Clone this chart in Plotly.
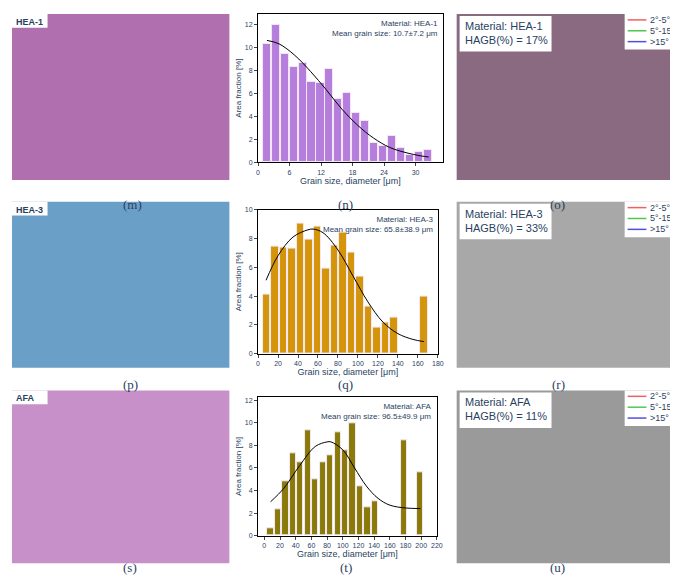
import plotly.graph_objects as go

W, H = 678, 583
# HEA-1
x1 = [1.7*i for i in range(1, 20)]
y1 = [10.3, 11.9, 9.4, 8.3, 8.6, 7.0, 6.9, 8.1, 5.5, 6.0, 4.3, 3.6, 1.65, 1.45, 2.25, 1.25, 0.65, 0.85, 1.05]
fx1 = [1.7, 4, 7, 10, 13, 16, 19, 22, 25, 28, 31, 32.5]
fy1 = [10.6, 10.3, 9.3, 7.9, 6.3, 4.6, 3.2, 2.1, 1.3, 0.85, 0.55, 0.45]
# HEA-3
x2 = [8.5, 17, 25.5, 34, 42.5, 51, 59.5, 68, 76.5, 85, 93.5, 102, 110.5, 119, 127.5, 136, 166]
y2 = [4.1, 7.45, 7.4, 7.3, 9.0, 7.95, 8.85, 5.9, 7.5, 8.4, 7.05, 5.35, 3.25, 1.8, 2.2, 2.5, 4.0]
fx2 = [8, 20, 35, 50, 55, 65, 80, 95, 110, 125, 140, 155, 166]
fy2 = [5.1, 6.8, 8.1, 8.6, 8.65, 8.4, 7.2, 5.4, 3.6, 2.2, 1.4, 1.0, 0.85]
# AFA
x3 = [8, 17.5, 27, 36.5, 46, 55.5, 65, 74.5, 84, 93.5, 103, 112.5, 122, 131.5, 141, 178, 199]
y3 = [0.65, 2.35, 4.85, 7.25, 6.5, 9.3, 4.95, 6.5, 7.15, 9.15, 7.6, 9.95, 4.4, 2.5, 3.0, 8.45, 5.6]
fx3 = [8, 25, 45, 65, 80, 85, 100, 115, 130, 145, 160, 180, 199]
fy3 = [3.0, 4.2, 6.2, 7.9, 8.3, 8.3, 7.6, 6.0, 4.4, 3.3, 2.7, 2.45, 2.4]

rows = [
    dict(x=x1, y=y1, fx=fx1, fy=fy1, w=1.55, col="#b57edc", xr=[0, 35.2], yr=[0, 12.9], xt=[0, 6, 12, 18, 24, 30], yt=[0, 2, 4, 6, 8, 10, 12],
         px=(251, 438), py=(2, 152), mat="HEA-1", mean="10.7±7.2 μm", hagb="17%", lab=("(m)", "(n)", "(o)"), ly=185,
         img=(2, 170), ipf="#b070b0", gb="#8a6a80"),
    dict(x=x2, y=y2, fx=fx2, fy=fy2, w=7.6, col="#d4950a", xr=[0, 180], yr=[0, 10], xt=list(range(0, 181, 20)), yt=[0, 2, 4, 6, 8, 10],
         px=(251, 433), py=(200, 346), mat="HEA-3", mean="65.8±38.9 μm", hagb="33%", lab=("(p)", "(q)", "(r)"), ly=377,
         img=(192, 360), ipf="#6aa0c8", gb="#a8a8a8"),
    dict(x=x3, y=y3, fx=fx3, fy=fy3, w=7.8, col="#8a7a0a", xr=[-8, 220], yr=[0, 12.25], xt=list(range(0, 221, 20)), yt=[0, 2, 4, 6, 8, 10, 12],
         px=(251, 432), py=(390, 530), mat="AFA", mean="96.5±49.9 μm", hagb="11%", lab=("(s)", "(t)", "(u)"), ly=572,
         img=(383, 558), ipf="#c890c8", gb="#9a9a9a"),
]

fig = go.Figure()
shapes, anns = [], []
def px2x(p): return p / W
def py2y(p): return 1 - p / H

for i, r in enumerate(rows, start=1):
    xa = "x" if i == 1 else f"x{i}"
    ya = "y" if i == 1 else f"y{i}"
    fig.add_trace(go.Bar(x=r["x"], y=r["y"], width=r["w"], marker=dict(color=r["col"], line=dict(color="#f4e8f4", width=1)),
                         xaxis=xa, yaxis=ya, showlegend=False))
    fig.add_trace(go.Scatter(x=r["fx"], y=r["fy"], mode="lines", line=dict(color="black", width=1, shape="spline"),
                             xaxis=xa, yaxis=ya, showlegend=False))
    ax = dict(domain=[px2x(r["px"][0]), px2x(r["px"][1])], range=r["xr"], tickvals=r["xt"], showline=True, mirror=True,
              linecolor="black", linewidth=1, ticks="outside", ticklen=3, tickangle=0, tickfont=dict(size=7, family="Arial"),
              title=dict(text="Grain size, diameter [μm]", font=dict(size=9, family="Arial"), standoff=1),
              anchor=ya, showgrid=False, zeroline=False)
    ay = dict(domain=[py2y(r["py"][1]), py2y(r["py"][0])], range=r["yr"], tickvals=r["yt"], showline=True, mirror=True,
              linecolor="black", linewidth=1, ticks="outside", ticklen=3, tickfont=dict(size=7, family="Arial"),
              title=dict(text="Area fraction [%]", font=dict(size=8, family="Arial"), standoff=2),
              anchor=xa, showgrid=False, zeroline=False)
    fig.layout["xaxis" if i == 1 else f"xaxis{i}"] = ax
    fig.layout["yaxis" if i == 1 else f"yaxis{i}"] = ay
    anns.append(dict(xref="paper", yref="paper", x=px2x(r["px"][1] - 3), y=py2y(r["py"][0] + 3), xanchor="right", yanchor="top",
                     align="right", showarrow=False, text=f"Material: {r['mat']}<br>Mean grain size: {r['mean']}",
                     font=dict(size=8, family="Arial")))
    t, b = r["img"]
    shapes.append(dict(type="rect", xref="paper", yref="paper", x0=px2x(2), x1=px2x(222), y0=py2y(b), y1=py2y(t),
                       fillcolor=r["ipf"], line=dict(width=0), layer="below"))
    shapes.append(dict(type="rect", xref="paper", yref="paper", x0=px2x(452), x1=px2x(676), y0=py2y(b), y1=py2y(t),
                       fillcolor=r["gb"], line=dict(width=0), layer="below"))
    shapes.append(dict(type="rect", xref="paper", yref="paper", x0=px2x(455), x1=px2x(548), y0=py2y(t + 38), y1=py2y(t + 2),
                       fillcolor="white", line=dict(width=0)))
    shapes.append(dict(type="rect", xref="paper", yref="paper", x0=px2x(622), x1=px2x(676), y0=py2y(t + 36), y1=py2y(t),
                       fillcolor="white", line=dict(width=0)))
    shapes.append(dict(type="rect", xref="paper", yref="paper", x0=px2x(2), x1=px2x(38), y0=py2y(t + 14), y1=py2y(t),
                       fillcolor="white", line=dict(width=0)))
    anns.append(dict(xref="paper", yref="paper", x=px2x(4), y=py2y(t + 1), xanchor="left", yanchor="top", showarrow=False,
                     text=f"<b>{r['mat']}</b>", font=dict(size=9, family="Arial")))
    anns.append(dict(xref="paper", yref="paper", x=px2x(458), y=py2y(t + 4), xanchor="left", yanchor="top", showarrow=False,
                     align="left", text=f"Material: {r['mat']}<br>HAGB(%) = {r['hagb']}", font=dict(size=11, family="Arial")))
    for k, (c, txt) in enumerate([("#f06060", "2°-5°"), ("#50c850", "5°-15°"), ("#5050e0", ">15°")]):
        yy = t + 6 + k * 11
        shapes.append(dict(type="line", xref="paper", yref="paper", x0=px2x(625), x1=px2x(644), y0=py2y(yy), y1=py2y(yy),
                           line=dict(color=c, width=1.5)))
        anns.append(dict(xref="paper", yref="paper", x=px2x(646), y=py2y(yy), xanchor="left", yanchor="middle", showarrow=False,
                         text=txt, font=dict(size=9, family="Arial")))
    for xc, lt in zip([112, 340, 564], r["lab"]):
        anns.append(dict(xref="paper", yref="paper", x=px2x(xc), y=py2y(r["ly"]), showarrow=False, text=lt,
                         font=dict(size=13, family="Liberation Serif")))

fig.update_layout(width=W, height=H, margin=dict(l=0, r=0, t=0, b=0), plot_bgcolor="white", paper_bgcolor="white",
                  shapes=shapes, annotations=anns, bargap=0)
fig.write_html("out.html")
